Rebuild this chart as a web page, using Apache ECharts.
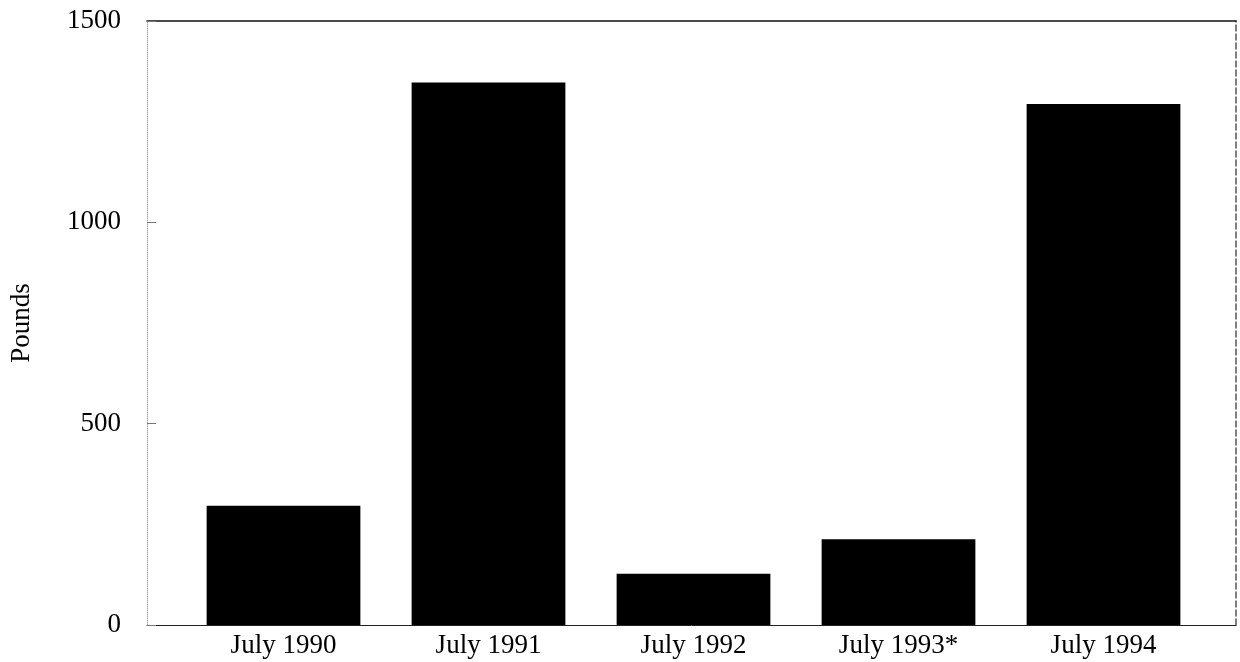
<!DOCTYPE html>
<html>
<head>
<meta charset="utf-8">
<script src="https://cdn.jsdelivr.net/npm/echarts@6/dist/echarts.min.js"></script>
<style>
  html, body { margin: 0; padding: 0; background: #fff; }
  #chart { width: 1240px; height: 662px; }
</style>
</head>
<body>
<div id="chart"></div>
<script>
  // data
  var categories = ['July 1990', 'July 1991', 'July 1992', 'July 1993*', 'July 1994'];
  var pounds = [296, 1347, 127, 213, 1294];
  var yTicks = [0, 500, 1000, 1500];

  var font = 'Liberation Serif';
  var myChart = echarts.init(document.getElementById('chart'));

  myChart.setOption({
    backgroundColor: '#fff',
    animation: false,
    grid: [
      // bars
      { left: 181, right: 34, top: 21, bottom: 37 },
      // frame + value labels
      { left: 145, right: 4, top: 21, bottom: 37 }
    ],
    xAxis: [
      {
        type: 'category',
        gridIndex: 0,
        data: categories,
        axisLine: { show: false },
        axisTick: { show: false },
        axisLabel: { color: '#000', fontFamily: font, fontSize: 27, margin: 7 }
      },
      {
        type: 'value', gridIndex: 1, position: 'bottom', min: 0, max: 1,
        axisLine: { show: true, onZero: false, lineStyle: { color: '#222', width: 1 } },
        axisTick: { show: false }, axisLabel: { show: false }, splitLine: { show: false }
      },
      {
        type: 'value', gridIndex: 1, position: 'top', min: 0, max: 1,
        axisLine: { show: true, onZero: false, lineStyle: { color: '#111', width: 1.5 } },
        axisTick: { show: false }, axisLabel: { show: false }, splitLine: { show: false }
      }
    ],
    yAxis: [
      {
        type: 'value', gridIndex: 0,
        min: yTicks[0], max: yTicks[yTicks.length - 1], interval: 500,
        show: false
      },
      {
        type: 'value', gridIndex: 1, position: 'left',
        min: yTicks[0], max: yTicks[yTicks.length - 1], interval: 500,
        name: 'Pounds',
        nameLocation: 'middle',
        nameGap: 112,
        nameTextStyle: { color: '#000', fontFamily: font, fontSize: 27 },
        axisLine: { show: true, onZero: false, lineStyle: { color: '#aaa', width: 1, type: 'dotted' } },
        axisTick: { show: true, inside: true, length: 9, lineStyle: { color: '#777' } },
        axisLabel: {
          color: '#000', fontFamily: font, fontSize: 27, margin: 26,
          formatter: function (v) { return String(v); }
        },
        splitLine: { show: false }
      },
      {
        type: 'value', gridIndex: 1, position: 'right',
        min: yTicks[0], max: yTicks[yTicks.length - 1],
        axisLine: { show: true, onZero: false, lineStyle: { color: '#555', width: 1.5, type: 'dashed' } },
        axisTick: { show: false }, axisLabel: { show: false }, splitLine: { show: false }
      }
    ],
    series: [
      {
        type: 'bar',
        xAxisIndex: 0,
        yAxisIndex: 0,
        data: pounds,
        barCategoryGap: '25%',
        itemStyle: { color: '#000' }
      }
    ]
  });
</script>
</body>
</html>
